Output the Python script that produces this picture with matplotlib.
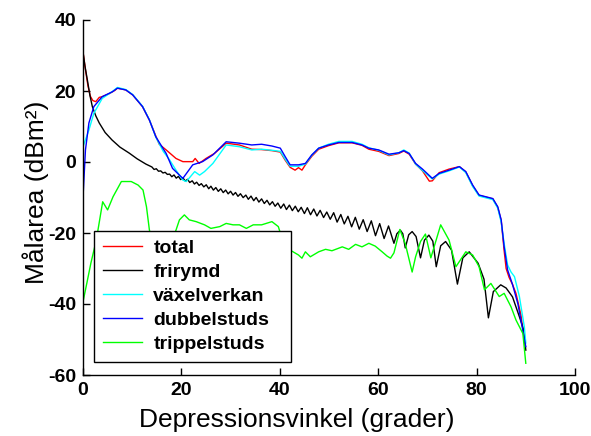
import matplotlib
matplotlib.use('Agg')
import matplotlib.pyplot as plt

plt.rcParams['font.family'] = ['Liberation Sans', 'DejaVu Sans']
plt.rcParams['axes.unicode_minus'] = False

# ---------------- data ----------------
labels = ['total', 'frirymd', 'växelverkan', 'dubbelstuds', 'trippelstuds']
colors = ['#ff0000', '#000000', '#00ffff', '#0000ff', '#00ff00']

total_x = [0, 0.5, 1.0, 1.5, 2.0, 2.6, 3.3, 3.9, 5.4, 6.5, 7.0, 8.7, 10.1, 12.1, 13.5, 14.8,
           15.5, 16.9, 18.9, 20.3, 22.3, 22.8, 23.6, 25.0, 26.7, 29.1, 31.8, 34.3, 36.3, 38.4,
           40.1, 41.1, 42.1, 43.1, 43.8, 44.5, 45.2, 46.5, 47.9, 49.9, 52.0, 54.7, 56.7, 58.1,
           60.1, 62.2, 64.2, 65.2, 66.3, 67.6, 69.0, 70.4, 71.0, 72.4, 74.4, 76.5, 77.8, 79.2,
           80.5, 81.9, 83.3, 84.3, 85.0, 85.6, 86.0, 86.6, 87.3, 88.0, 89.0, 89.9]
total_y = [31.0, 26.0, 21.5, 18.5, 17.3, 17.0, 18.2, 18.4, 19.3, 20.2, 20.8, 20.3, 18.9, 15.6,
           11.8, 7.3, 5.0, 3.4, 1.0, 0.1, 0.1, 1.0, -0.4, 1.0, 2.4, 5.3, 4.8, 3.6, 3.5, 3.2,
           2.8, 0.5, -1.5, -2.3, -1.6, -2.3, -0.8, 1.6, 3.6, 4.6, 5.4, 5.4, 4.7, 3.6,
           3.0, 1.8, 2.4, 3.1, 2.2, -0.6, -2.5, -5.4, -5.3, -3.0, -2.0, -1.3, -2.8, -6.7,
           -9.4, -9.9, -10.4, -12.8, -16.5, -25.0, -30.0, -32.5, -34.5, -37.0, -43.0, -52.0]

frirymd_x = [0, 0.4, 0.9, 1.4, 1.9, 2.6, 3.3, 4.5, 5.9, 7.5, 9.4, 11.0, 12.8,
             14.0, 14.45, 14.9, 15.35, 15.8, 16.25, 16.7, 17.15, 17.6, 18.05, 18.5, 18.95, 19.4, 19.85,
             20.3, 20.8, 21.25, 21.7, 22.2, 22.65, 23.1, 23.6, 24.05, 24.55,
             25.05, 25.55, 26.0, 26.5, 27.0, 27.5, 28.0, 28.5, 29.0, 29.5,
             30.0, 30.5, 31.0, 31.5, 32.0, 32.55,
             33.1, 33.6, 34.15, 34.7, 35.2, 35.75,
             36.3, 36.85, 37.4, 37.95, 38.5, 39.05, 39.6, 40.2,
             40.8, 41.35, 41.95, 42.55, 43.15, 43.75,
             44.35, 45.0, 45.6, 46.25, 46.9, 47.55,
             48.2, 48.9, 49.55, 50.25, 50.95, 51.65,
             52.4, 53.1, 53.85, 54.6, 55.35, 56.15,
             56.95, 57.75, 58.6, 59.45, 60.3, 61.2, 62.1, 63.2,
             63.8, 64.5, 65.0, 65.5, 66.2, 66.9, 67.7, 68.6, 69.4, 70.3, 71.1, 71.8, 72.7, 73.7,
             74.9, 76.1, 77.2, 78.5, 80.3, 81.5, 82.4, 83.4, 84.9, 86.0, 87.3, 88.7, 89.5, 90.0]
frirymd_y = [31.0, 27.0, 23.0, 18.8, 15.6, 13.0, 11.0, 8.3, 6.2, 4.2, 2.5, 0.9, -0.6,
             -1.4, -2.1, -1.9, -2.6, -2.5, -3.1, -2.9, -3.5, -3.4, -4.15, -3.65, -4.55, -4.05, -4.95,
             -4.46, -5.38, -4.88, -5.78, -5.3, -6.2, -5.69, -6.6, -6.1, -7.01,
             -6.42, -7.53, -6.82, -7.92, -7.2, -8.27, -7.55, -8.62, -7.9, -8.97,
             -8.25, -9.32, -8.59, -9.67, -8.94, -10.03,
             -9.32, -10.5, -9.6, -10.9, -9.99, -11.29,
             -10.39, -11.69, -10.79, -12.08, -11.18, -12.47, -11.56, -13.02,
             -11.83, -13.39, -12.14, -13.7, -12.45, -14.01,
             -12.76, -14.53, -12.89, -14.86, -13.24, -15.21,
             -13.61, -15.65, -14.09, -16.13, -14.28, -16.93,
             -14.79, -17.44, -15.3, -18.26, -15.58, -18.92,
             -16.25, -19.59, -16.57, -20.76, -17.35, -21.56, -18.02, -22.9,
             -20.2, -19.2, -20.2, -24.2, -20.5, -19.6, -21.0, -27.0, -22.0, -20.6, -22.3, -29.5, -23.6, -22.4,
             -24.8, -34.4, -27.0, -25.3, -28.5, -33.0, -43.9, -36.5, -34.6, -35.5, -38.0, -43.6, -47.0, -53.0]

vaxel_x = [0, 1.2, 2.2, 3.9, 6.0, 7.0, 8.7, 10.1, 12.1, 13.5, 14.8, 16.3, 17.6, 18.9, 20.3, 21.0,
           22.7, 23.7, 24.7, 26.4, 29.1, 31.8, 34.3, 36.3, 38.4, 40.1, 41.1, 42.1, 43.8, 45.2,
           46.5, 47.9, 49.9, 52.0, 54.7, 56.7, 58.1, 60.1, 62.2, 64.2, 65.2, 66.3, 67.6, 69.0,
           71.0, 72.4, 74.4, 76.5, 77.8, 79.2, 80.5, 81.9, 83.3, 84.3, 85.0, 85.6, 86.3, 87.0,
           87.7, 88.7, 89.7, 90.0]
vaxel_y = [4.3, 9.0, 13.7, 17.9, 19.9, 21.0, 20.4, 19.0, 15.7, 11.9, 7.0, 3.0, 0.6, -2.3, -5.1, -5.5,
           -2.7, -3.7, -2.7, -0.4, 4.8, 4.3, 3.4, 3.6, 3.3, 3.0, 0.8, -1.2, -1.2, -0.6,
           1.9, 3.9, 5.0, 5.8, 5.8, 5.0, 4.0, 3.3, 2.0, 2.6, 3.4, 2.5, -0.6, -2.4,
           -4.8, -3.4, -2.5, -1.4, -3.0, -6.9, -9.6, -10.1, -10.6, -13.0, -17.0, -23.0, -29.0, -31.0,
           -32.3, -37.9, -46.4, -51.0]

dubbel_x = [0, 0.5, 1.2, 2.2, 3.9, 6.0, 7.0, 8.7, 10.1, 12.1, 13.5, 14.8, 16.9, 18.2, 19.6, 20.3,
            22.3, 24.3, 26.4, 29.1, 31.8, 34.3, 36.3, 38.4, 40.1, 41.1, 42.1, 43.8, 45.2, 46.5,
            47.9, 49.9, 52.0, 54.7, 56.7, 58.1, 60.1, 62.2, 64.2, 65.2, 66.3, 67.6, 69.0, 71.0,
            72.4, 74.4, 76.5, 77.8, 79.2, 80.5, 81.9, 83.3, 84.3, 85.0, 85.6, 86.3, 87.3, 88.4,
            89.4, 90.0]
dubbel_y = [-10.0, 3.4, 11.0, 15.6, 18.4, 19.8, 20.8, 20.3, 18.9, 15.6, 11.8, 7.1, 2.4, -1.8, -3.7, -4.6,
            -0.8, 0.1, 2.0, 5.7, 5.3, 4.8, 5.0, 4.5, 3.9, 1.5, -0.8, -0.8, -0.4, 2.0,
            3.9, 4.8, 5.5, 5.5, 4.8, 3.9, 3.4, 2.2, 2.6, 3.2, 2.4, -0.4, -2.0, -4.6,
            -3.2, -2.3, -1.3, -2.7, -6.5, -9.3, -9.8, -10.3, -12.6, -16.3, -23.9, -30.4, -34.5, -40.0,
            -47.5, -52.0]

trippel_x = [0, 0.8, 1.6, 2.7, 4.0, 5.0, 6.1, 7.8, 9.8, 11.2, 12.2, 12.9, 13.5, 14.5, 16.0, 17.5,
             18.9, 19.6, 20.6, 21.6, 23.0, 24.7, 26.0, 27.8, 29.1, 30.5, 31.8, 33.2, 34.6, 36.3,
             38.4, 39.7, 41.0, 42.7, 43.8, 44.5, 45.2, 46.2, 47.9, 49.3, 50.6, 52.7, 54.0, 55.4,
             56.7, 58.1, 59.4, 60.8, 61.8, 62.5, 63.2, 64.4, 65.5, 66.9, 67.6, 68.6, 69.6, 70.7,
             72.7, 74.4, 75.8, 77.8, 79.2, 80.5, 81.6, 82.9, 84.6, 85.6, 87.0, 88.0, 89.4, 90.0]
trippel_y = [-39.4, -34.0, -28.5, -22.0, -11.2, -13.5, -9.8, -5.5, -5.5, -6.5, -7.9, -12.6, -19.2, -24.0, -26.0, -24.0,
             -19.2, -16.3, -14.9, -16.3, -16.8, -17.7, -18.7, -18.2, -17.3, -17.7, -17.7, -18.7, -17.7, -17.7,
             -16.8, -18.2, -24.0, -25.3, -26.2, -27.1, -25.3, -26.7, -25.3, -24.6, -25.0, -23.9, -24.6, -23.2,
             -23.9, -22.9, -23.7, -25.3, -26.5, -27.1, -25.6, -19.0, -23.0, -31.0, -26.7, -22.4, -20.3, -27.0,
             -17.7, -22.0, -29.5, -25.3, -26.2, -29.5, -36.0, -34.2, -37.9, -37.0, -40.8, -44.5, -48.3, -56.7]

xticks = [0, 20, 40, 60, 80, 100]
yticks = [-60, -40, -20, 0, 20, 40]
xlabel = 'Depressionsvinkel (grader)'
ylabel = 'Målarea (dBm²)'

# ---------------- figure ----------------
W, H = 591, 436
AW = 492
fig = plt.figure(figsize=(W / 100, H / 100), dpi=100)
ax = fig.add_axes([83 / W, 1 - 375 / H, AW / W, 355 / H])

series = [(total_x, total_y), (frirymd_x, frirymd_y), (vaxel_x, vaxel_y),
          (dubbel_x, dubbel_y), (trippel_x, trippel_y)]
for (xs, ys), lab, col in zip(series, labels, colors):
    ax.plot(xs, ys, color=col, lw=1.0, label=lab)

ax.set_xlim(0, 100)
ax.set_ylim(-60, 40)
ax.set_xticks(xticks)
ax.set_yticks(yticks)
ax.set_xticklabels([str(v) for v in xticks])
ax.set_yticklabels([str(v) for v in yticks])
ax.spines['top'].set_visible(False)
ax.spines['right'].set_visible(False)
for s in ('left', 'bottom'):
    ax.spines[s].set_linewidth(1.0)
ax.tick_params(direction='in', length=5, width=1, labelsize=14, pad=5)
for lab in ax.get_xticklabels() + ax.get_yticklabels():
    lab.set_fontweight('bold')

ax.set_xlabel(xlabel, fontsize=19)
ax.set_ylabel(ylabel, fontsize=19)
ax.xaxis.set_label_coords(0.435, -0.092)
ax.yaxis.set_label_coords(-0.07, 0.515)

# legend box: px 94..291 wide, 230..362 tall
lx0 = (94 - 83) / AW
lw_ = (291 - 94) / AW
ly0 = (375 - 362) / 355
lh_ = (362 - 230) / 355
leg = ax.legend(loc='lower left', bbox_to_anchor=(lx0, ly0, lw_, lh_), mode='expand',
                borderaxespad=0, prop={'size': 14, 'weight': 'bold'}, handlelength=2.0,
                handletextpad=0.6, labelspacing=0.33, borderpad=0.45, fancybox=False,
                framealpha=1, edgecolor='black')
leg.get_frame().set_linewidth(1.0)

fig.savefig('out.png', dpi=100)
